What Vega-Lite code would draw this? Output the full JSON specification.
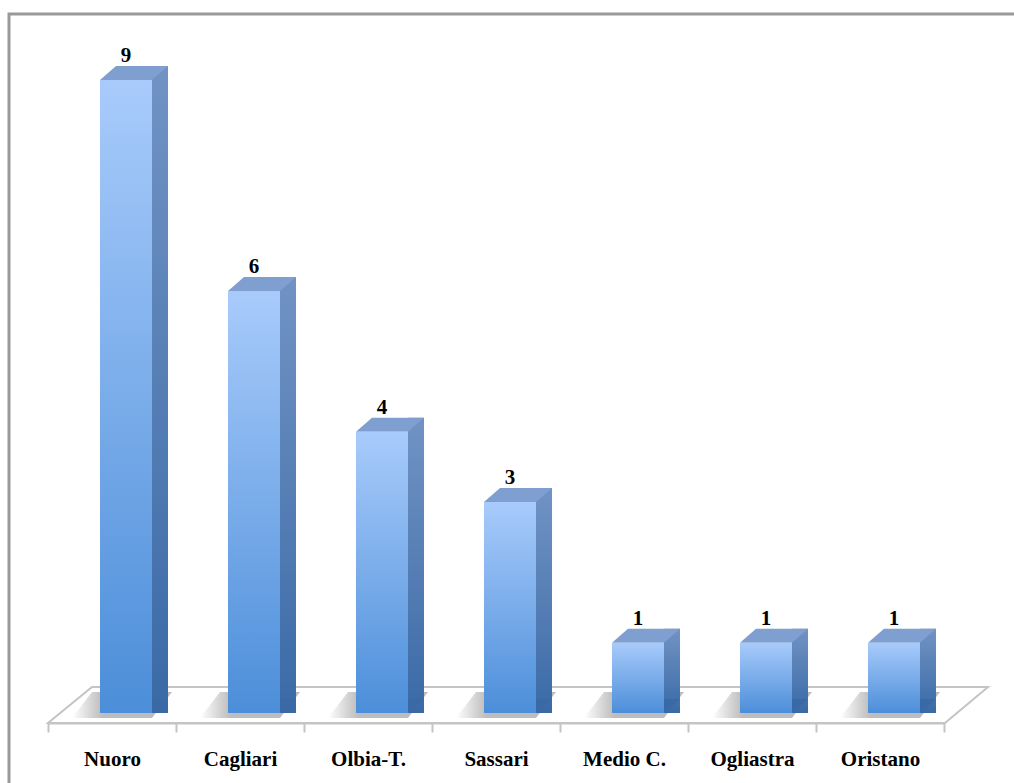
{
  "$schema": "https://vega.github.io/schema/vega-lite/v6.json",
  "width": 1010,
  "height": 790,
  "autosize": {"type": "none"},
  "padding": {"left": 9, "top": 14, "right": 0, "bottom": 0},
  "background": "white",
  "config": {
    "view": {"stroke": "#9a9a9a", "strokeWidth": 3},
    "font": "Liberation Serif"
  },
  "data": {
    "values": [
      {"region": "Nuoro", "value": 9},
      {"region": "Cagliari", "value": 6},
      {"region": "Olbia-T.", "value": 4},
      {"region": "Sassari", "value": 3},
      {"region": "Medio C.", "value": 1},
      {"region": "Ogliastra", "value": 1},
      {"region": "Oristano", "value": 1}
    ]
  },
  "encoding": {
    "x": {
      "field": "region",
      "type": "nominal",
      "sort": ["Nuoro", "Cagliari", "Olbia-T.", "Sassari", "Medio C.", "Ogliastra", "Oristano"],
      "scale": {"domain": ["Nuoro", "Cagliari", "Olbia-T.", "Sassari", "Medio C.", "Ogliastra", "Oristano"], "range": [39, 935], "paddingInner": 0, "paddingOuter": 0},
      "axis": {
        "title": null,
        "orient": "bottom",
        "offset": -81,
        "labelAngle": 0,
        "domainColor": "#c4c4c4",
        "domainWidth": 2,
        "tickColor": "#c4c4c4",
        "tickWidth": 2,
        "tickSize": 9,
        "tickBand": "extent",
        "labelPadding": 16,
        "labelFont": "Liberation Serif",
        "labelFontWeight": "bold",
        "labelFontSize": 21,
        "labelColor": "#000000"
      }
    },
    "y": {
      "field": "value",
      "type": "quantitative",
      "scale": {"domain": [0, 9], "range": [699, 66], "nice": false, "zero": true},
      "axis": null
    }
  },
  "layer": [
    {
      "transform": [{"filter": "datum.region === 'Sassari'"}],
      "mark": {
        "type": "point",
        "shape": "M -1 0.0383 L -0.9064 -0.0383 L 1 -0.0383 L 0.9085 0.0383 Z",
        "size": 883600,
        "filled": false,
        "fill": "white",
        "fillOpacity": 1,
        "stroke": "#c4c4c4",
        "strokeWidth": 2,
        "opacity": 1,
        "xOffset": 22,
        "yOffset": -8
      },
      "encoding": {"y": {"datum": 0, "type": "quantitative"}}
    },
    {
      "mark": {
        "type": "point",
        "shape": "M -1 0.26 L -0.6 -0.26 L 1 -0.26 L 0.6 0.26 Z",
        "size": 10000,
        "filled": true,
        "opacity": 1,
        "strokeWidth": 0,
        "fill": {
          "gradient": "linear", "x1": 0, "y1": 0, "x2": 1, "y2": 0,
          "stops": [{"offset": 0, "color": "#ffffff"}, {"offset": 0.3, "color": "#bdbdbd"}, {"offset": 1, "color": "#bdbdbd"}]
        },
        "xOffset": 10,
        "yOffset": -8
      },
      "encoding": {"y": {"datum": 0, "type": "quantitative"}}
    },
    {
      "mark": {
        "type": "bar",
        "width": 16,
        "xOffset": 48,
        "yOffset": -14,
        "color": {
          "gradient": "linear", "x1": 0, "y1": 0, "x2": 0, "y2": 1,
          "stops": [{"offset": 0, "color": "#7193c4"}, {"offset": 1, "color": "#3a6aa6"}]
        }
      },
      "encoding": {"y2": {"datum": 0}}
    },
    {
      "mark": {
        "type": "point",
        "shape": "M -1 -0.875 L 1 -0.875 L -1 0.875 Z",
        "size": 256,
        "filled": true,
        "color": "#3a6aa6",
        "opacity": 1,
        "strokeWidth": 0,
        "xOffset": 48,
        "yOffset": -7
      },
      "encoding": {"y": {"datum": 0, "type": "quantitative"}}
    },
    {
      "mark": {
        "type": "point",
        "shape": "M -1 0.2059 L -0.5294 -0.2059 L 1 -0.2059 L 0.5294 0.2059 Z",
        "size": 4624,
        "filled": true,
        "color": "#7f9fd0",
        "opacity": 1,
        "strokeWidth": 0,
        "xOffset": 22,
        "yOffset": -7
      }
    },
    {
      "mark": {
        "type": "bar",
        "width": 52,
        "xOffset": 14,
        "color": {
          "gradient": "linear", "x1": 0, "y1": 0, "x2": 0, "y2": 1,
          "stops": [{"offset": 0, "color": "#a8cbfb"}, {"offset": 1, "color": "#4c8ed9"}]
        }
      },
      "encoding": {"y2": {"datum": 0}}
    },
    {
      "mark": {
        "type": "text",
        "xOffset": 14,
        "dy": -18,
        "baseline": "alphabetic",
        "font": "Liberation Serif",
        "fontWeight": "bold",
        "fontSize": 21,
        "color": "#000000"
      },
      "encoding": {"text": {"field": "value", "type": "quantitative"}}
    }
  ]
}
